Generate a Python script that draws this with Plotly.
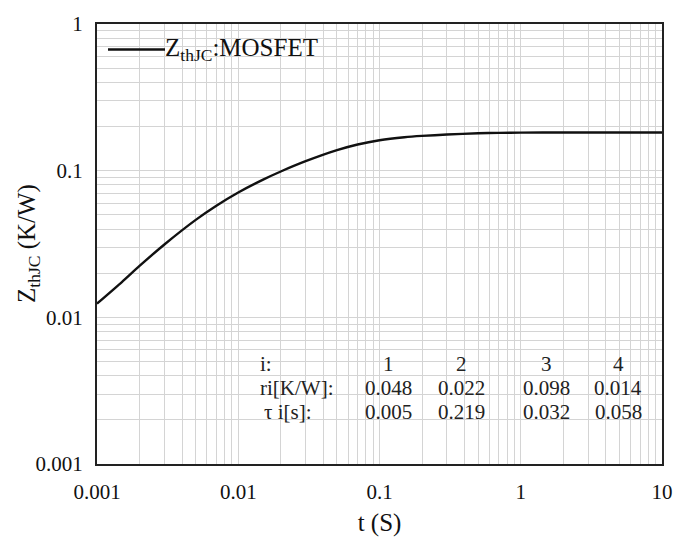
import plotly.graph_objects as go

# Data
t_s = [0.001, 0.0015, 0.002, 0.003, 0.005, 0.007, 0.01, 0.015, 0.02, 0.03,
       0.05, 0.07, 0.1, 0.15, 0.2, 0.3, 0.5, 0.7, 1, 2, 5, 10]
zth = [0.0124, 0.0174, 0.0224, 0.0314, 0.0462, 0.0577, 0.0710, 0.0869, 0.0987, 0.1160,
       0.1380, 0.1508, 0.1613, 0.1690, 0.1726, 0.1763, 0.1798, 0.1811, 0.1818, 0.1820, 0.1820, 0.1820]

table_idx = ["1", "2", "3", "4"]
table_r = ["0.048", "0.022", "0.098", "0.014"]
table_tau = ["0.005", "0.219", "0.032", "0.058"]
row_labels = ["i:", "ri[K/W]:", "τ i[s]:"]

x_ticks = [0.001, 0.01, 0.1, 1, 10]
x_tick_text = ["0.001", "0.01", "0.1", "1", "10"]
y_ticks = [0.001, 0.01, 0.1, 1]
y_tick_text = ["0.001", "0.01", "0.1", "1"]

SERIF = "Liberation Serif"
GRID = "#d4d4d4"

fig = go.Figure()
fig.add_trace(go.Scatter(x=t_s, y=zth, mode="lines",
                         line=dict(color="#111111", width=2.4, shape="spline", smoothing=0.6),
                         name="Z<sub>thJC</sub>:MOSFET", showlegend=False))

# plot area in pixels: x 97..662, y 17..465
W, H = 688, 544
L, R, T, B = 97, 26, 17, 79
pw, ph = W - L - R, H - T - B

def px(x):
    return (x - L) / pw

def py(y):
    return (H - B - y) / ph

shapes = []
# legend background and line
shapes.append(dict(type="rect", xref="paper", yref="paper", x0=px(100), x1=px(328), y0=py(64), y1=py(21),
                   fillcolor="white", line=dict(width=0), layer="between"))
shapes.append(dict(type="line", xref="paper", yref="paper", x0=px(108), x1=px(165), y0=py(43), y1=py(43),
                   line=dict(color="#111111", width=2.4), layer="above"))
# table background
shapes.append(dict(type="rect", xref="paper", yref="paper", x0=px(255), x1=px(650), y0=py(448), y1=py(348),
                   fillcolor="white", line=dict(width=0), layer="between"))

annotations = []
annotations.append(dict(xref="paper", yref="paper", x=px(163), y=py(43), xanchor="left", yanchor="middle",
                        text="Z<sub>thJC</sub>:MOSFET", showarrow=False,
                        font=dict(family=SERIF, size=25, color="#111111")))
# y-axis title
annotations.append(dict(xref="paper", yref="paper", x=px(28), y=py(241), xanchor="center", yanchor="middle",
                        text="Z<sub>thJC</sub> (K/W)", textangle=-90, showarrow=False,
                        font=dict(family=SERIF, size=25, color="#111111")))

row_y = [363, 388, 412]
col_x = [388, 461, 546, 618]
label_x = [258, 258, 262]
TFONT = dict(family=SERIF, size=21, color="#222222")
for j, lab in enumerate(row_labels):
    annotations.append(dict(xref="paper", yref="paper", x=px(label_x[j]), y=py(row_y[j]),
                            xanchor="left", yanchor="middle", text=lab, showarrow=False, font=TFONT))
for rowi, vals in enumerate([table_idx, table_r, table_tau]):
    for c, v in enumerate(vals):
        annotations.append(dict(xref="paper", yref="paper", x=px(col_x[c]), y=py(row_y[rowi]),
                                xanchor="center", yanchor="middle", text=v, showarrow=False, font=TFONT))

axis_common = dict(type="log", showline=True, linecolor="#222222", linewidth=2, mirror=True,
                   showgrid=True, gridcolor=GRID, gridwidth=1, zeroline=False, ticks="",
                   tickfont=dict(family=SERIF, size=21, color="#111111"),
                   minor=dict(dtick="D1", showgrid=True, gridcolor=GRID, gridwidth=1, ticks=""))

fig.update_layout(
    width=W, height=H,
    margin=dict(l=L, r=R, t=T, b=B),
    paper_bgcolor="white", plot_bgcolor="white",
    font=dict(family=SERIF, color="#111111"),
    showlegend=False,
    shapes=shapes, annotations=annotations,
    xaxis=dict(axis_common, range=[-3, 1], tickvals=x_ticks, ticktext=x_tick_text,
               ticklabelstandoff=8,
               title=dict(text="t (S)", font=dict(family=SERIF, size=25, color="#111111"), standoff=10)),
    yaxis=dict(axis_common, range=[-3, 0], tickvals=y_ticks, ticktext=y_tick_text,
               ticklabelstandoff=8),
)

fig.write_html("out.html")
